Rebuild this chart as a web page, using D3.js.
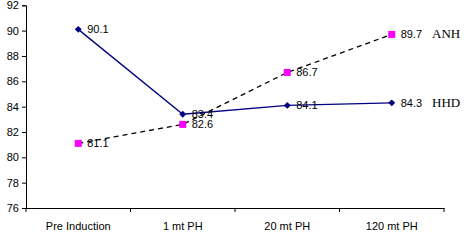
<!DOCTYPE html>
<html>
<head>
<meta charset="utf-8">
<script src="https://cdn.jsdelivr.net/npm/d3@7"></script>
<style>
  body { margin: 0; background: #fff; }
  svg { display: block; }
  .tick text { font-family: "Liberation Sans", Arial, sans-serif; font-size: 11px; fill: #000; }
</style>
</head>
<body>
<svg id="chart" width="464" height="248"></svg>
<script>
// chart data
var categories = ["Pre Induction", "1 mt PH", "20 mt PH", "120 mt PH"];
var hhdValues = [90.1, 83.4, 84.1, 84.3];
var anhValues = [81.1, 82.6, 86.7, 89.7];
var yTicks = [76, 78, 80, 82, 84, 86, 88, 90, 92];
var seriesNames = ["HHD", "ANH"];

var svg = d3.select("#chart");
var plotLeft = 26, plotRight = 444, plotTop = 5.3, plotBottom = 208;

var x = d3.scaleBand().domain(categories).range([plotLeft, plotRight]);
var y = d3.scaleLinear().domain([76, 92]).range([plotBottom, plotTop]);

// y axis
var yAxis = svg.append("g")
    .attr("transform", "translate(" + plotLeft + ",0)")
    .call(d3.axisLeft(y).tickValues(yTicks).tickSize(4).tickPadding(3));
yAxis.select(".domain").attr("stroke", "#000");
yAxis.selectAll(".tick line").attr("stroke", "#000");

// x axis with ticks at the band edges
var xAxis = svg.append("g")
    .attr("transform", "translate(0," + plotBottom + ")")
    .call(d3.axisBottom(x).tickSize(0).tickPadding(14));
xAxis.select(".domain").attr("stroke", "#000");
var edges = categories.map(function(c) { return x(c); }).concat([plotRight]);
xAxis.selectAll(".edge").data(edges).enter().append("line")
    .attr("x1", function(d) { return d; })
    .attr("x2", function(d) { return d; })
    .attr("y1", 0).attr("y2", 4)
    .attr("stroke", "#000");

function cx(i) { return x(categories[i]) + x.bandwidth() / 2; }

var line = d3.line()
    .x(function(d, i) { return cx(i); })
    .y(function(d) { return y(d); });

// ANH: dashed black with magenta squares
svg.append("path").datum(anhValues)
    .attr("d", line)
    .attr("fill", "none")
    .attr("stroke", "#000")
    .attr("stroke-width", 1.3)
    .attr("stroke-dasharray", "5,4");

// HHD: navy line with diamonds
svg.append("path").datum(hhdValues)
    .attr("d", line)
    .attr("fill", "none")
    .attr("stroke", "#000080")
    .attr("stroke-width", 1.3);

svg.selectAll(".anh").data(anhValues).enter().append("rect")
    .attr("x", function(d, i) { return cx(i) - 3.5; })
    .attr("y", function(d) { return y(d) - 3.5; })
    .attr("width", 7).attr("height", 7)
    .attr("fill", "#ff00ff");

svg.selectAll(".hhd").data(hhdValues).enter().append("path")
    .attr("d", d3.symbol().type(d3.symbolSquare).size(24))
    .attr("transform", function(d, i) { return "translate(" + cx(i) + "," + y(d) + ") rotate(45)"; })
    .attr("fill", "#000080");

// value labels
[hhdValues, anhValues].forEach(function(vals) {
    svg.selectAll(null).data(vals).enter().append("text")
        .attr("x", function(d, i) { return cx(i) + 9; })
        .attr("y", function(d) { return y(d) + 4; })
        .attr("font-family", "Liberation Sans, Arial, sans-serif")
        .attr("font-size", "11px")
        .text(function(d) { return d.toFixed(1); });
});

// series names at line ends
svg.selectAll(".name").data([hhdValues, anhValues]).enter().append("text")
    .attr("x", 432)
    .attr("y", function(d) { return y(d[d.length - 1]) + 4; })
    .attr("font-family", "Liberation Serif, Times New Roman, serif")
    .attr("font-size", "13px")
    .text(function(d, i) { return seriesNames[i]; });
</script>
</body>
</html>
